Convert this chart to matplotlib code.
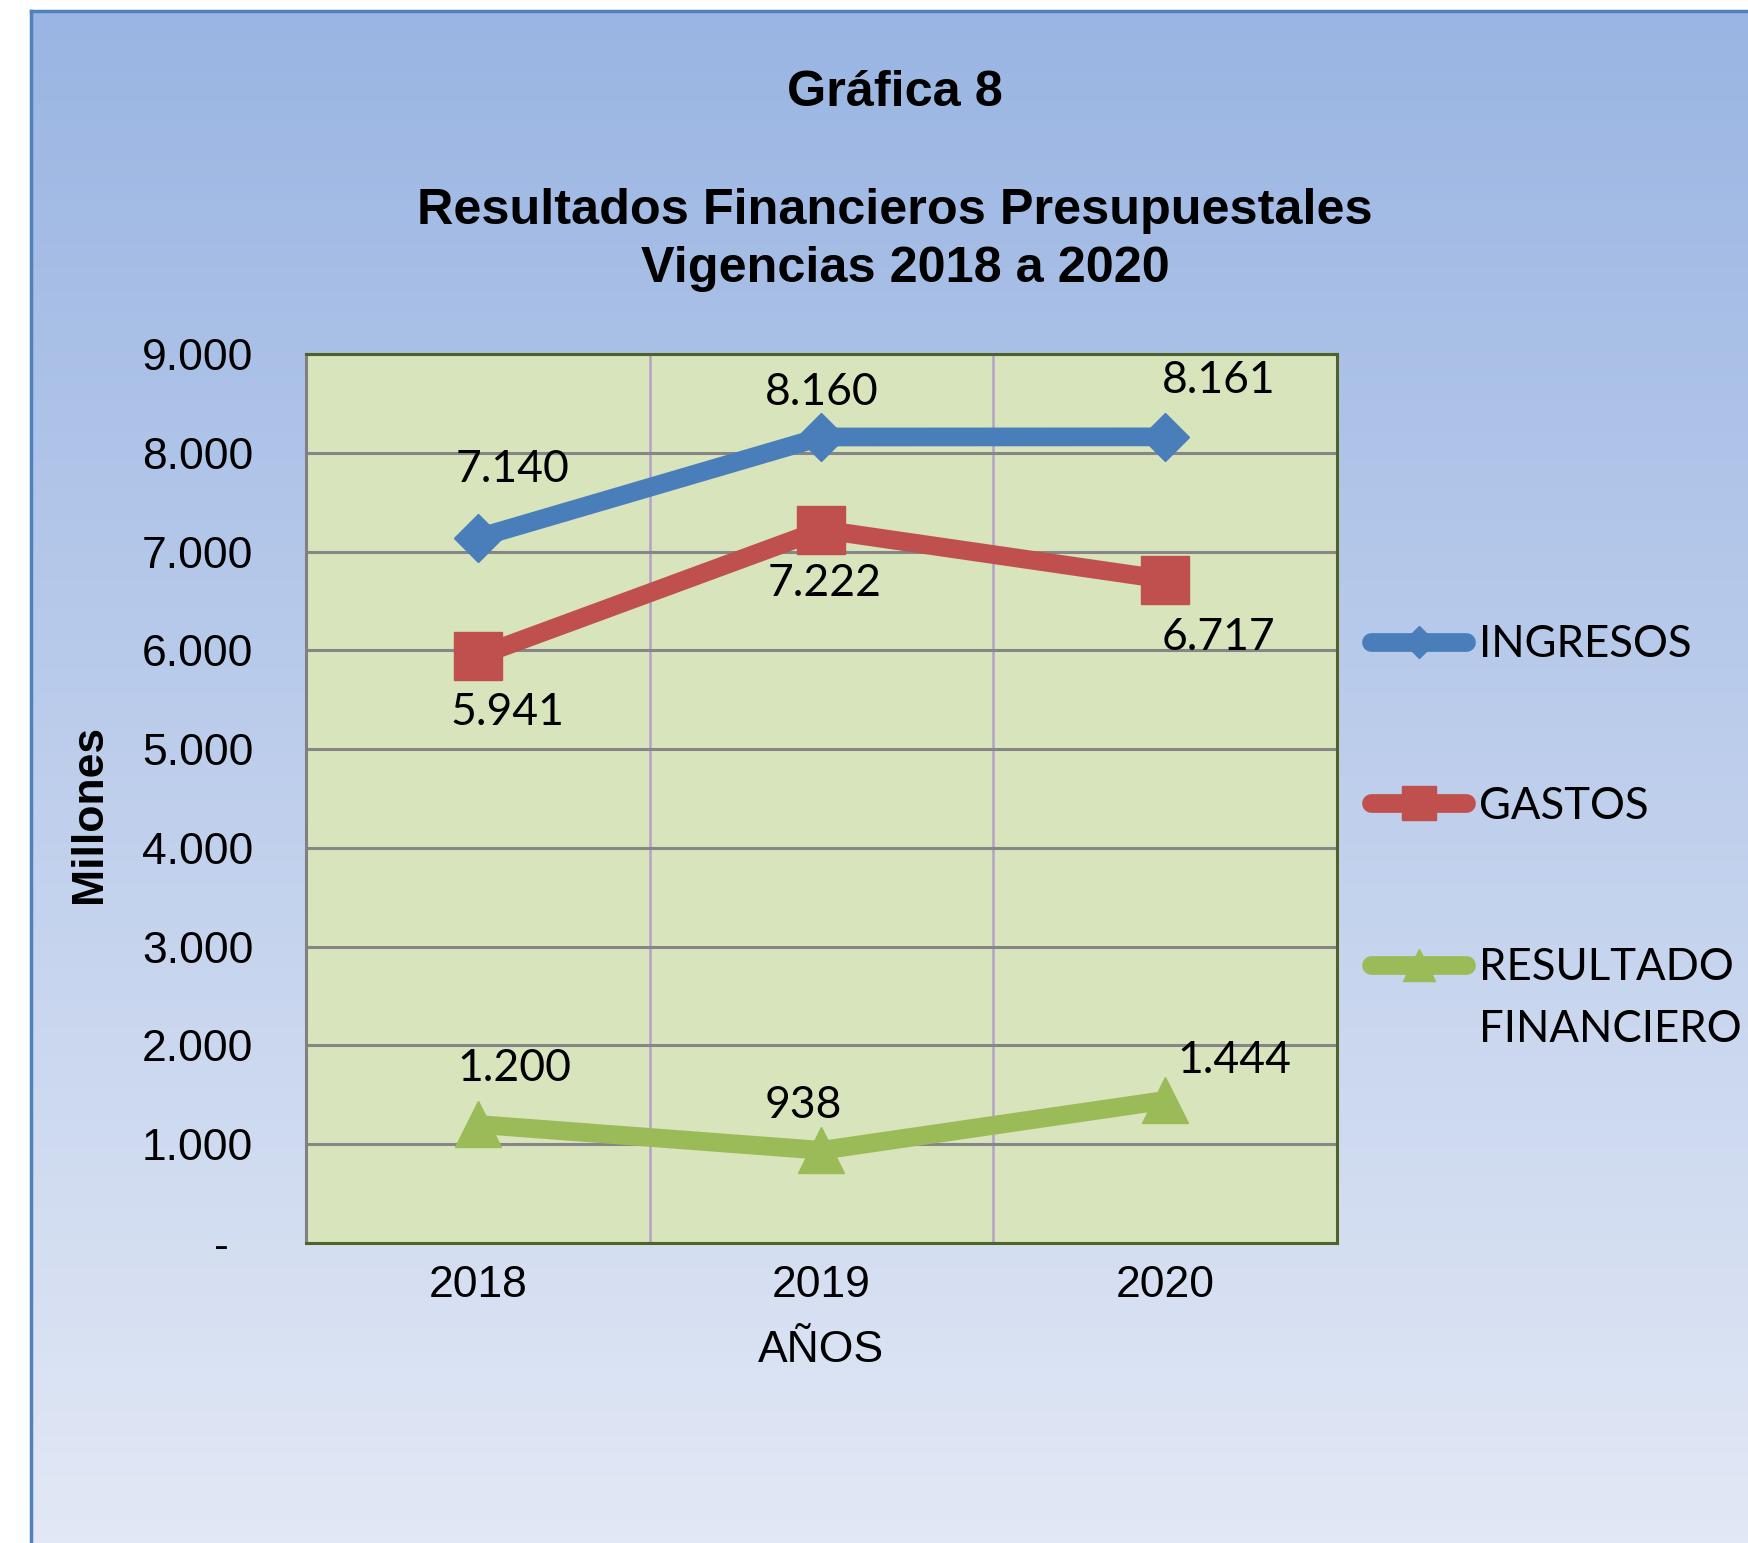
import numpy as np
import matplotlib
matplotlib.use('Agg')
import matplotlib.pyplot as plt
from matplotlib.ticker import FuncFormatter, FixedLocator

# data (millones)
years = ['2018', '2019', '2020']
ingresos = [7140, 8160, 8161]
gastos = [5941, 7222, 6717]
resultado = [1200, 938, 1444]
series_names = ['INGRESOS', 'GASTOS', 'RESULTADO']
y_ticks = [0, 1000, 2000, 3000, 4000, 5000, 6000, 7000, 8000, 9000]

W, H = 1749, 1543
fig = plt.figure(figsize=(W / 100, H / 100), dpi=100, facecolor='white')

# background panel with vertical gradient, blue border on left/top
bg = fig.add_axes([31 / W, 0, 1 - 31 / W, 1 - 11 / H])
grad = np.linspace(0, 1, 256).reshape(-1, 1)
top_c = np.array([154, 181, 227]) / 255
bot_c = np.array([226, 232, 245]) / 255
img = top_c + grad[..., None] * (bot_c - top_c)
bg.imshow(img, aspect='auto', extent=(0, 1, 0, 1), origin='upper')
bg.set_xlim(0, 1)
bg.set_ylim(0, 1)
bg.set_xticks([])
bg.set_yticks([])
for s in ['right', 'bottom']:
    bg.spines[s].set_visible(False)
for s in ['left', 'top']:
    bg.spines[s].set_color('#4F81BD')
    bg.spines[s].set_linewidth(2.5)
bg.set_zorder(-5)

ax = fig.add_axes([306 / W, 1 - 1243 / H, 1031 / W, 889 / H])
ax.set_facecolor('#D8E4BC')
x = np.arange(len(years))

styles = [
    dict(color='#4A7EBB', marker='D', markersize=24),
    dict(color='#C0504D', marker='s', markersize=35),
    dict(color='#9BBB59', marker='^', markersize=33),
]
offsets = [
    [(35, 68), (0, 44), (54, 56)],
    [(30, -56), (3, -54), (53, -58)],
    [(37, 56), (-18, 45), (69, 40)],
]
lines = []
for vals, name, st, offs in zip([ingresos, gastos, resultado], series_names, styles, offsets):
    ln, = ax.plot(x, vals, lw=13.5, solid_capstyle='round', solid_joinstyle='round',
                  markeredgewidth=1, markeredgecolor=st['color'], label=name, zorder=3, **st)
    lines.append(ln)
    for xi, v, (dx, dy) in zip(x, vals, offs):
        ax.annotate(f'{v:,}'.replace(',', '.'), (xi, v), xytext=(dx, dy),
                    textcoords='offset pixels', ha='center', va='center',
                    fontsize=32, family='Lato', zorder=4)

ax.set_xlim(-0.5, 2.5)
ax.set_ylim(0, 9000)
ax.set_xticks(x)
ax.set_xticklabels(years)
ax.xaxis.set_minor_locator(FixedLocator([0.5, 1.5]))
ax.set_yticks(y_ticks)
ax.yaxis.set_major_formatter(FuncFormatter(
    lambda v, p: '-  ' if v == 0 else f'{int(v):,}'.replace(',', '.')))
ax.grid(axis='y', which='major', color='#868686', lw=2.2, zorder=1)
ax.grid(axis='x', which='minor', color='#B3A2C7', lw=1.8, zorder=1)
ax.set_axisbelow(True)
ax.tick_params(axis='both', which='both', length=0)
ax.tick_params(axis='y', labelsize=32, pad=38)
ax.tick_params(axis='x', labelsize=32, pad=16)
for lab in ax.get_xticklabels() + ax.get_yticklabels():
    lab.set_family('Liberation Sans')

for s in ['top', 'right', 'bottom']:
    ax.spines[s].set_color('#4F6228')
    ax.spines[s].set_linewidth(2.2)
ax.spines['left'].set_color('#808080')
ax.spines['left'].set_linewidth(2.2)

ax.set_ylabel('Millones', fontsize=32, fontweight='bold', family='Liberation Sans')
ax.yaxis.set_label_coords(-0.19, 0.483)
fig.text(821 / W, 1 - 1350 / H, 'AÑOS', fontsize=32, family='Liberation Sans',
         ha='center', va='center')

fig.text(895 / W, 1 - 93 / H, 'Gráfica 8', fontsize=36.3, fontweight='bold',
         family='Liberation Sans', ha='center', va='center')
fig.text(895 / W, 1 - 211 / H, 'Resultados Financieros Presupuestales', fontsize=36.3,
         fontweight='bold', family='Liberation Sans', ha='center', va='center')
fig.text(905 / W, 1 - 269 / H, 'Vigencias 2018 a 2020', fontsize=36.3,
         fontweight='bold', family='Liberation Sans', ha='center', va='center')

leg = fig.legend(handles=lines, loc='center left', bbox_to_anchor=(1371 / W, 1 - 806 / H),
                 frameon=False, numpoints=1, markerscale=0.68, handlelength=2.18,
                 handletextpad=0.3, labelspacing=2.75, borderpad=0, borderaxespad=0,
                 prop={'family': 'Lato', 'size': 31.5})

fig.canvas.draw()
bb = leg.get_texts()[2].get_window_extent()
fig.text(bb.x0 / W, (bb.y0 + bb.height / 2 - 62) / H, 'FINANCIERO', fontsize=31.5,
         family='Lato', ha='left', va='center')

fig.savefig('out.png', dpi=100, facecolor='white')
